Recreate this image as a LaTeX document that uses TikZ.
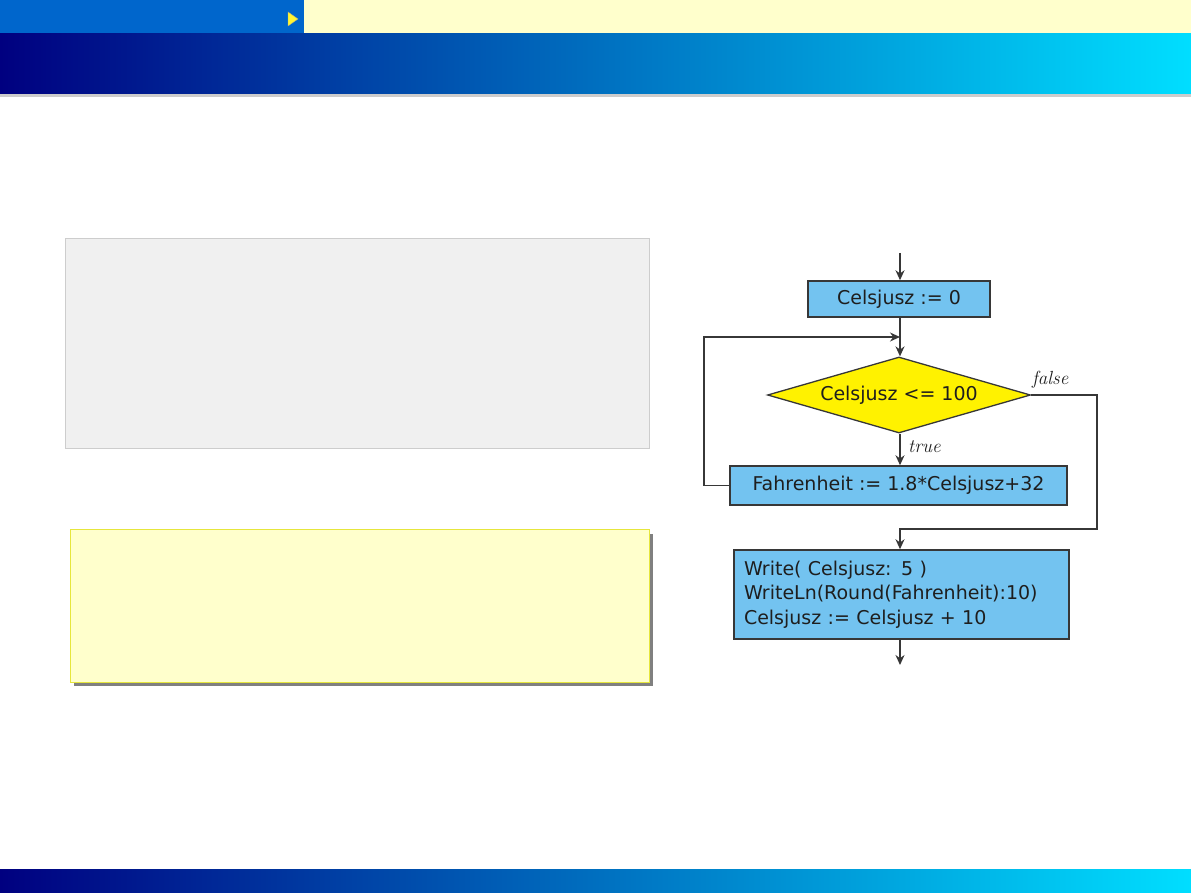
\documentclass[tikz,border=0pt]{standalone}
\usepackage{fontspec}
\setmainfont{DejaVu Sans}
\newfontfamily\lmit{Latin Modern Roman}
\usetikzlibrary{shapes.geometric,arrows.meta}
\definecolor{navyc}{RGB}{0,0,128}
\definecolor{midc}{RGB}{0,95,185}
\definecolor{cyanc}{RGB}{0,222,255}
\definecolor{topblue}{RGB}{0,102,204}
\definecolor{paleyel}{RGB}{255,255,204}
\definecolor{boxblue}{RGB}{115,195,240}
\definecolor{diayel}{RGB}{255,242,0}
\definecolor{edgec}{RGB}{55,55,55}
\definecolor{textc}{RGB}{30,30,30}
\definecolor{grayfill}{RGB}{240,240,240}
\definecolor{grayedge}{RGB}{205,205,205}
\definecolor{yeledge}{RGB}{230,230,60}
\definecolor{shadowc}{RGB}{128,128,128}
\tikzset{
  stepbox/.style={draw=edgec,line width=1.5pt,fill=boxblue,inner sep=0pt,text=textc,
    font=\fontsize{19}{24.5}\selectfont},
  decbox/.style={diamond,draw=edgec,line width=1.3pt,fill=diayel,inner sep=0pt,text=textc,
    aspect=3.46,font=\fontsize{19}{24.5}\selectfont},
  conn/.style={draw=edgec,line width=1.5pt},
  arr/.style={conn,-{Stealth[length=10pt,width=9pt]}},
  lbl/.style={font=\lmit\itshape\fontsize{19}{21}\selectfont,inner sep=0pt,text=textc}
}
\begin{document}
\begin{tikzpicture}[x=1pt,y=-1pt]
\useasboundingbox (0,0) rectangle (1191,893);
% header
\fill[topblue] (0,0) rectangle (304,34);
\fill[paleyel] (304,0) rectangle (1191,34);
\fill[yellow!80!white,draw=gray!70!yellow,line width=0.4pt] (288,12) -- (298,19) -- (288,26) -- cycle;
\shade[left color=navyc,middle color=midc,right color=cyanc] (0,34) rectangle (1191,94);
\fill[gray!40] (0,94) rectangle (1191,97);
% footer
\shade[left color=navyc,middle color=midc,right color=cyanc] (0,869) rectangle (1191,893);
% left panels
\draw[fill=grayfill,draw=grayedge,line width=0.8pt] (65,238) rectangle (649,448);
\fill[shadowc] (74,534) rectangle (653,686);
\draw[fill=paleyel,draw=yeledge,line width=0.9pt] (70,529) rectangle (649,682);
% flowchart
\coordinate (start) at (900,253);
\node[stepbox,minimum width=182pt,minimum height=36pt] (b1) at (899,299) {Celsjusz := 0};
\coordinate (join) at (900,337);
\node[decbox,minimum width=263pt,minimum height=76pt] (d) at (899,395) {Celsjusz <= 100};
\node[stepbox,minimum width=337pt,minimum height=39pt] (b2) at (898.5,485.5) {Fahrenheit := 1.8*Celsjusz+32};
\node[stepbox,minimum width=335pt,minimum height=89pt,text width=315pt,align=left] (b3) at (901.5,594.5) {Write( Celsjusz: 5 )\\WriteLn(Round(Fahrenheit):10)\\Celsjusz := Celsjusz + 10};
\coordinate (loopl) at (704,487);
\coordinate (fr) at (1097,395);
\coordinate (fb) at (1097,529);
\coordinate (fm) at (900,529);
\coordinate (endc) at (900,665);
\draw[arr] (start) -- (b1.north -| start);
\draw[arr] (b1.south -| start) -- (d.north -| start);
\draw[arr] (d.south -| start) -- (b2.north -| start);
\draw[arr] (b2.west) -- (b2.west -| loopl) |- (join);
\draw[arr] (d.east) -- (fr) -- (fb) -- (fm) -- (b3.north -| fm);
\draw[arr] (b3.south -| start) -- (endc);
\node[lbl,anchor=south west] (lf) at (1032,389) {false};
\node[lbl,anchor=south west] (lt) at (908,453) {true};
\end{tikzpicture}
\end{document}
